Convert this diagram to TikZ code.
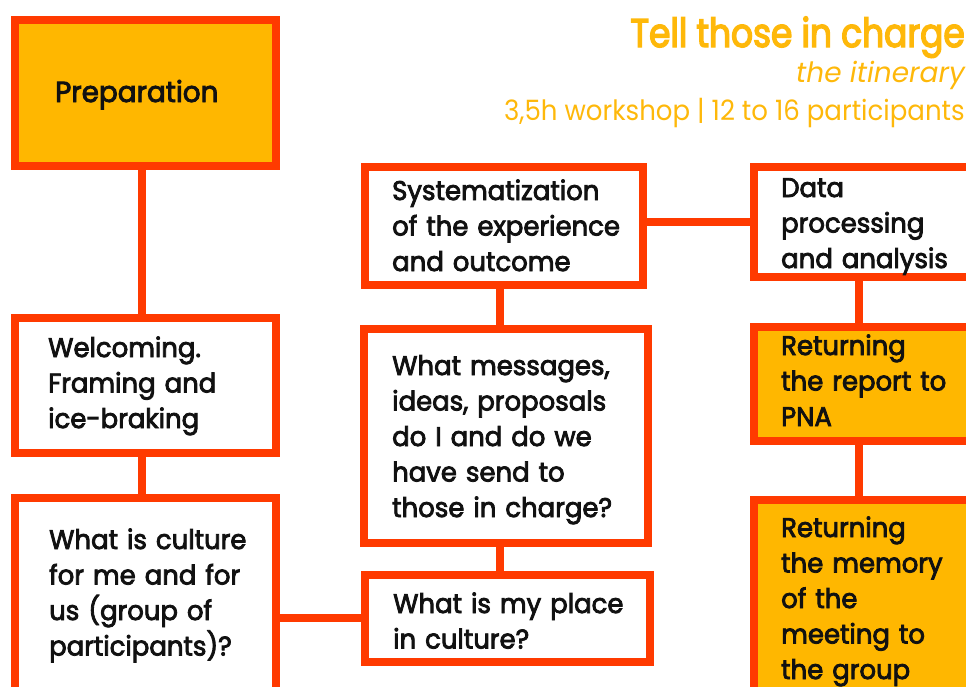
\documentclass[tikz,border=0pt]{standalone}
\usepackage{fontspec}
\setmainfont{Poppins}
% medium-weight face for the box captions
\newfontfamily\boxfont[FakeBold=3,FakeStretch=0.96]{Poppins}
% heading faces
\newfontfamily\headfont[FakeBold=3.5,FakeStretch=0.86]{Poppins}
\newfontfamily\infofont[FakeStretch=0.93]{Poppins}
\begin{document}
\definecolor{frameorange}{RGB}{255,58,0}
\definecolor{boxamber}{RGB}{255,183,0}
\definecolor{titleamber}{RGB}{254,184,10}
\definecolor{ink}{RGB}{17,17,17}
\begin{tikzpicture}[x=1pt,y=-1pt,
  frame/.style={draw=frameorange,line width=8pt,fill=white,inner sep=0pt,outer sep=0pt},
  hilite/.style={frame,fill=boxamber},
  link/.style={draw=frameorange,line width=8pt},
  label/.style={anchor=base west,inner sep=0pt,text=ink,text width=330pt,align=left,
    font=\boxfont\fontsize{27}{35.5}\selectfont},
  heading/.style={anchor=base east,inner sep=0pt,text=titleamber}]
\useasboundingbox (0,0) rectangle (966,686);
\clip (0,0) rectangle (966,686);

% boxes (centre line of the border)
\node[hilite,minimum width=261pt,minimum height=146pt]  (prep)   at (145.5,93) {};
\node[frame, minimum width=261pt,minimum height=135.5pt](welc)   at (145.5,385.25) {};
\node[frame, minimum width=261pt,minimum height=202pt]  (cult)   at (145.5,599) {};
\node[frame, minimum width=278.5pt,minimum height=118pt](sys)    at (503.75,226) {};
\node[frame, minimum width=284pt,minimum height=214pt]  (msg)    at (506,436) {};
\node[frame, minimum width=284.5pt,minimum height=87.5pt](place) at (507.25,618.25) {};
\node[frame, minimum width=226pt,minimum height=110pt]  (data)   at (867,222) {};
\node[hilite,minimum width=226pt,minimum height=114.5pt](report) at (867,383.75) {};
\node[hilite,minimum width=226pt,minimum height=200pt]  (memory) at (867,600) {};

% connectors
\path[link] ([xshift=-4pt]prep.south) -- ([xshift=-4pt]welc.north);
\path[link] ([xshift=-4pt]welc.south) -- ([xshift=-4pt]cult.north);
\path[link] (place.west) -- (place.west -| cult.east);
\path[link] ([xshift=-4pt]sys.south) -- ([xshift=-4pt]sys.south |- msg.north);
\path[link] ([xshift=-6pt]msg.south) -- ([xshift=-6pt]msg.south |- place.north);
\path[link] (data.west) -- (data.west -| sys.east);
\path[link] ([xshift=-8pt]data.south) -- ([xshift=-8pt]report.north);
\path[link] ([xshift=-8pt]report.south) -- ([xshift=-8pt]memory.north);

% redraw the frames over the connector ends
\foreach \b in {prep,welc,cult,sys,msg,place,data,report,memory}
  \draw[draw=frameorange,line width=8pt] (\b.north west) rectangle (\b.south east);

% box texts
\node[label,font=\boxfont\fontsize{29}{35.5}\selectfont] (tprep) at (55,102) {Preparation};
\node[label] (twelc)   at (48,357)  {Welcoming.\\Framing and\\ice-braking};
\node[label] (tcult)   at (49,549)  {What is culture\\for me and for\\us (group of\\participants)?};
\node[label] (tsys)    at (392,200) {Systematization\\of the experience\\and outcome};
\node[label] (tmsg)    at (392,375) {What messages,\\ideas, proposals\\do I and do we\\have send to\\those in charge?};
\node[label] (tplace)  at (393,613) {What is my place\\in culture?};
\node[label] (tdata)   at (781,197) {Data\\processing\\and analysis};
\node[label] (treport) at (781,355) {Returning\\the report to\\PNA};
\node[label] (tmemory) at (781,537) {Returning\\the memory\\of the\\meeting to\\the group};

% heading
\node[heading,font=\headfont\fontsize{40}{40}\selectfont] (title) at (965,47) {Tell those in charge};
\node[heading,font=\itshape\fontsize{28}{28}\selectfont] (sub) at (965,82) {the itinerary};
\node[heading,font=\infofont\fontsize{28}{28}\selectfont] (info) at (965,120) {3,5h workshop | 12 to 16 participants};
\end{tikzpicture}
\end{document}
